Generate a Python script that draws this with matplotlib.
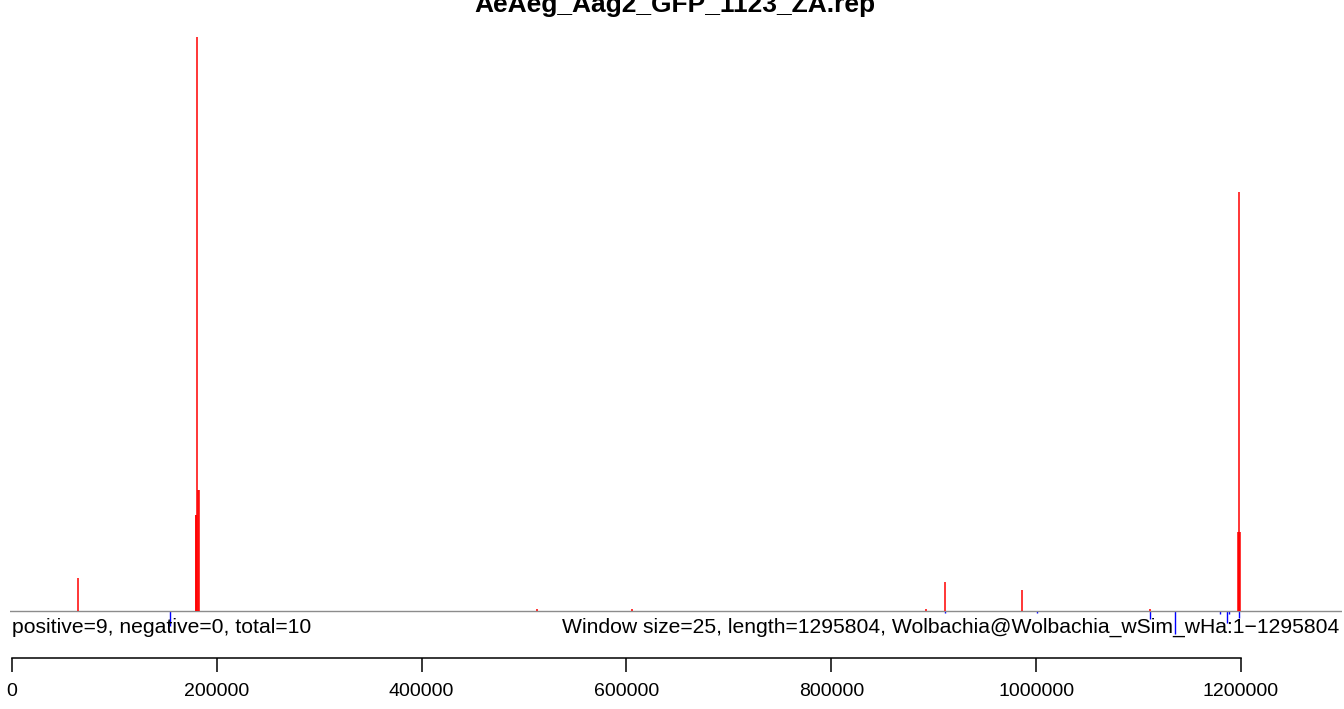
import matplotlib
matplotlib.use("Agg")
import matplotlib.pyplot as plt

plt.rcParams['font.family'] = ['Liberation Sans', 'DejaVu Sans']

title = "AeAeg_Aag2_GFP_1123_ZA.rep"
left_note = "positive=9, negative=0, total=10"
right_note = "Window size=25, length=1295804, Wolbachia@Wolbachia_wSim_wHa:1\u22121295804"

genome_length = 1295804

# positive strand windows (position, count)
pos_positions = [64400, 179500, 179950, 181900, 182300, 181120, 512600, 605400,
                 892400, 911000, 986200, 1111200, 1197400, 1197750, 1199020, 1198530]
pos_counts = [57, 167, 167, 211, 211, 1000, 3.5, 3.5,
              4, 50, 37, 3, 138, 138, 138, 730]

# negative strand windows (position, count) drawn below the baseline
neg_positions = [154270, 911000, 1000800, 1111150, 1135560, 1179500, 1186330,
                 1187800, 1198040]
neg_counts = [26, 3.5, 3.5, 14, 40, 5, 21, 5, 12]

tick_values = [0, 200000, 400000, 600000, 800000, 1000000, 1200000]
tick_labels = [str(v) for v in tick_values]

W, H = 1344, 709
fig = plt.figure(figsize=(W / 100, H / 100), dpi=100)

ax_left_px, ax_right_px = 10, 1342
ax_top_px, ax_bottom_px = 37, 658
base_px = 611
ax = fig.add_axes([ax_left_px / W, (H - ax_bottom_px) / H,
                   (ax_right_px - ax_left_px) / W, (ax_bottom_px - ax_top_px) / H])

upx = 1200000 / (1241 - 12)
ax.set_xlim((ax_left_px - 12) * upx, (ax_right_px - 12) * upx)
ypx = max(pos_counts) / (base_px - ax_top_px)
ax.set_ylim(-(ax_bottom_px - base_px) * ypx, max(pos_counts))

ax.vlines(neg_positions, 0, [-c for c in neg_counts], colors='#0000ff', lw=1.0, zorder=2)
ax.axhline(0, color='#8c8c8c', lw=1.0, zorder=3)
ax.vlines(pos_positions, 0, pos_counts, colors='#ff0000', lw=1.1, zorder=4)

for s in ['top', 'right', 'left']:
    ax.spines[s].set_visible(False)
ax.spines['bottom'].set_bounds(0, 1200000)
ax.spines['bottom'].set_linewidth(1.1)
ax.set_yticks([])
ax.set_xticks(tick_values)
ax.set_xticklabels(tick_labels)
ax.tick_params(axis='x', direction='out', length=10, width=1.1, pad=8, labelsize=14)

fig.text(674.5 / W, 1 - 12 / H, title, ha='center', va='baseline',
         fontsize=19, fontweight='bold')
fig.text(12 / W, 1 - 633 / H, left_note, ha='left', va='baseline', fontsize=15.2)
fig.text(1339 / W, 1 - 633 / H, right_note, ha='right', va='baseline', fontsize=15.2)

fig.savefig("out.png", dpi=100)
